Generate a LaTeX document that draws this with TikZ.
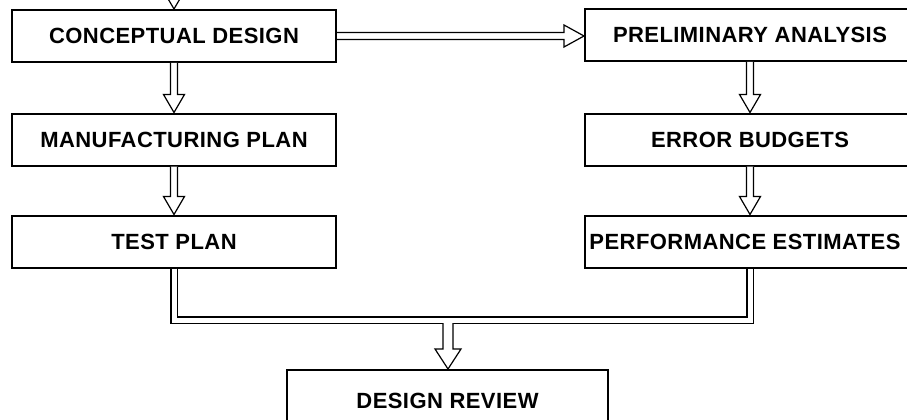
\documentclass[tikz,border=0pt]{standalone}
\usepackage{fontspec}
\setmainfont{Liberation Sans}[LetterSpace=2]
\usetikzlibrary{calc}
\tikzset{
  box/.style={draw, line width=2pt, minimum height=52pt, inner sep=0pt, font=\fontsize{22}{26}\selectfont\bfseries},
  leftbox/.style={box, minimum width=324pt},
  rightbox/.style={box, minimum width=330pt},
  arr/.style={draw, line width=1.2pt, fill=white, line join=miter},
  dbl/.style={draw, line width=1.2pt, double, double distance=5pt, line join=miter},
}
\newcommand{\vdarrow}[2]{%
  \path[arr] let \p1=(#1), \p2=(#2) in
    (\x1-3.5pt,\y1) -- (\x1-3.5pt,\y2+18pt) -- (\x1-10.5pt,\y2+18pt) -- (\x2,\y2)
    -- (\x1+10.5pt,\y2+18pt) -- (\x1+3.5pt,\y2+18pt) -- (\x1+3.5pt,\y1);}
\begin{document}
\begin{tikzpicture}[x=1pt,y=1pt]
\useasboundingbox (0,0) rectangle (907,-420);
\clip (0,0) rectangle (907,-420);
\node[leftbox] (cd) at (174,-36) {CONCEPTUAL DESIGN};
\node[leftbox] (mp) at (174,-139.5) {MANUFACTURING PLAN};
\node[leftbox] (tp) at (174,-241.5) {TEST PLAN};
\node[rightbox] (pa) at (750,-35) {PRELIMINARY ANALYSIS};
\node[rightbox] (eb) at (750,-139.5) {ERROR BUDGETS};
\node[rightbox] (pe) at (750,-241.5) {\hspace*{-10pt}PERFORMANCE ESTIMATES};
\node[box, minimum width=321pt, minimum height=62pt] (dr) at (447.5,-401) {DESIGN REVIEW};
\coordinate (topin) at (174,14);
\coordinate (merge) at (448,-320);
% top incoming arrow
\vdarrow{topin}{cd.north}
% vertical arrows
\vdarrow{cd.south}{mp.north}
\vdarrow{mp.south}{tp.north}
\vdarrow{pa.south}{eb.north}
\vdarrow{eb.south}{pe.north}
% horizontal arrow
\path[arr] let \p1=(cd.east), \p2=(pa.west) in
  (\x1,\y1+3.5pt) -- (\x2-20pt,\y1+3.5pt) -- (\x2-20pt,\y1+11pt) -- (\x2,\y1)
  -- (\x2-20pt,\y1-11pt) -- (\x2-20pt,\y1-3.5pt) -- (\x1,\y1-3.5pt);
% merge double line
\draw[dbl] (tp.south) |- (merge) -| (pe.south);
% arrow to design review
\fill[white] let \p1=(merge), \p2=(dr.north) in
  (\x1-5pt,\y1) -- (\x1-5pt,\y2+20pt) -- (\x1-13pt,\y2+20pt) -- (\x1,\y2)
  -- (\x1+13pt,\y2+20pt) -- (\x1+5pt,\y2+20pt) -- (\x1+5pt,\y1) -- cycle;
\draw[line width=1.2pt, line join=miter] let \p1=(merge), \p2=(dr.north) in
  (\x1-5pt,\y1-3.1pt) -- (\x1-5pt,\y2+20pt) -- (\x1-13pt,\y2+20pt) -- (\x1,\y2)
  -- (\x1+13pt,\y2+20pt) -- (\x1+5pt,\y2+20pt) -- (\x1+5pt,\y1-3.1pt);
\end{tikzpicture}
\end{document}
